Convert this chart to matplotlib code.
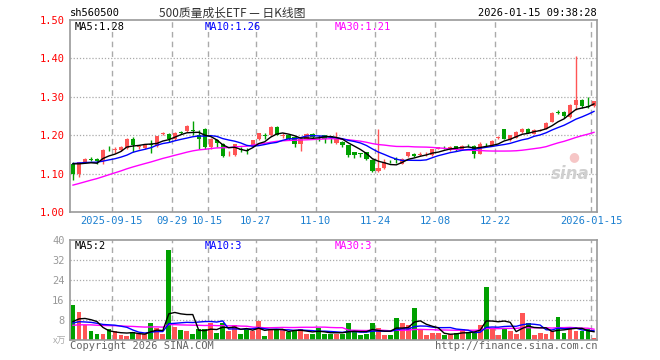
import numpy as np
import pandas as pd
import matplotlib
matplotlib.use("Agg")
import matplotlib.pyplot as plt

# daily K data, 2025-09-04 .. 2026-01-15 (88 sessions)
opens = [1.126, 1.100, 1.131, 1.137, 1.139, 1.133, 1.165, 1.161, 1.162, 1.167,
         1.190, 1.169, 1.167, 1.177, 1.172, 1.203, 1.203, 1.190, 1.209, 1.210,
         1.213, 1.200, 1.216, 1.170, 1.187, 1.178, 1.150, 1.148, 1.164, 1.162,
         1.171, 1.190, 1.201, 1.200, 1.222, 1.199, 1.200, 1.196, 1.178, 1.191,
         1.204, 1.199, 1.200, 1.197, 1.180, 1.183, 1.174, 1.155, 1.153, 1.155,
         1.135, 1.106, 1.115, 1.130, 1.136, 1.126, 1.145, 1.151, 1.149, 1.150,
         1.148, 1.165, 1.169, 1.161, 1.172, 1.165, 1.177, 1.172, 1.152, 1.177,
         1.174, 1.193, 1.216, 1.187, 1.194, 1.209, 1.217, 1.204, 1.212, 1.216,
         1.235, 1.260, 1.261, 1.248, 1.278, 1.291, 1.277, 1.276]
highs = [1.130, 1.131, 1.141, 1.143, 1.141, 1.163, 1.172, 1.168, 1.172, 1.192,
         1.196, 1.174, 1.177, 1.188, 1.199, 1.208, 1.205, 1.208, 1.212, 1.226,
         1.237, 1.214, 1.218, 1.192, 1.189, 1.180, 1.158, 1.178, 1.170, 1.166,
         1.188, 1.207, 1.206, 1.223, 1.223, 1.205, 1.201, 1.198, 1.192, 1.205,
         1.206, 1.200, 1.201, 1.199, 1.209, 1.186, 1.175, 1.157, 1.154, 1.157,
         1.137, 1.217, 1.137, 1.135, 1.142, 1.140, 1.156, 1.153, 1.155, 1.155,
         1.165, 1.170, 1.173, 1.172, 1.173, 1.174, 1.178, 1.174, 1.181, 1.180,
         1.187, 1.197, 1.217, 1.201, 1.210, 1.220, 1.219, 1.215, 1.216, 1.234,
         1.260, 1.266, 1.263, 1.280, 1.407, 1.294, 1.300, 1.290]
lows = [1.083, 1.091, 1.129, 1.132, 1.125, 1.125, 1.158, 1.153, 1.160, 1.165,
        1.157, 1.164, 1.165, 1.153, 1.170, 1.200, 1.183, 1.187, 1.204, 1.208,
        1.200, 1.165, 1.165, 1.165, 1.170, 1.143, 1.146, 1.146, 1.155, 1.150,
        1.168, 1.188, 1.190, 1.198, 1.200, 1.194, 1.188, 1.168, 1.159, 1.189,
        1.194, 1.186, 1.180, 1.180, 1.178, 1.170, 1.143, 1.140, 1.142, 1.135,
        1.103, 1.104, 1.113, 1.128, 1.128, 1.124, 1.144, 1.144, 1.145, 1.147,
        1.146, 1.163, 1.163, 1.160, 1.160, 1.164, 1.170, 1.140, 1.150, 1.172,
        1.172, 1.190, 1.190, 1.186, 1.193, 1.207, 1.205, 1.202, 1.210, 1.215,
        1.234, 1.254, 1.245, 1.246, 1.265, 1.271, 1.272, 1.274]
closes = [1.100, 1.129, 1.139, 1.135, 1.132, 1.161, 1.163, 1.162, 1.170, 1.190,
          1.174, 1.171, 1.175, 1.175, 1.198, 1.205, 1.189, 1.207, 1.207, 1.223,
          1.210, 1.191, 1.170, 1.189, 1.179, 1.147, 1.152, 1.176, 1.162, 1.160,
          1.187, 1.206, 1.199, 1.222, 1.201, 1.201, 1.191, 1.178, 1.191, 1.204,
          1.196, 1.197, 1.191, 1.195, 1.191, 1.174, 1.148, 1.149, 1.152, 1.139,
          1.106, 1.115, 1.129, 1.129, 1.135, 1.139, 1.155, 1.146, 1.151, 1.152,
          1.163, 1.168, 1.168, 1.170, 1.162, 1.172, 1.176, 1.152, 1.178, 1.176,
          1.185, 1.195, 1.191, 1.200, 1.209, 1.217, 1.207, 1.213, 1.214, 1.232,
          1.258, 1.258, 1.251, 1.278, 1.291, 1.276, 1.274, 1.288]
# volume, 万手
volumes = [14.0, 11.2, 5.9, 3.5, 2.3, 2.3, 4.5, 3.6, 1.9, 1.6,
           3.2, 2.5, 2.5, 6.7, 4.9, 2.3, 36.0, 5.2, 3.9, 3.5,
           2.3, 4.5, 4.5, 6.9, 2.7, 6.9, 3.5, 5.9, 2.3, 4.3,
           3.6, 7.6, 1.5, 3.9, 4.1, 4.3, 3.2, 3.6, 4.3, 2.5,
           2.5, 4.7, 2.3, 2.5, 2.5, 2.5, 6.7, 3.3, 1.9, 2.5,
           6.7, 4.7, 1.9, 1.9, 8.7, 6.7, 5.9, 12.7, 4.3, 1.9,
           2.7, 2.7, 1.9, 2.3, 2.7, 4.5, 3.3, 3.3, 5.9, 21.1,
           4.3, 1.9, 4.7, 3.5, 2.3, 10.7, 6.7, 1.9, 2.7, 2.3,
           3.5, 9.1, 2.7, 4.5, 3.5, 3.5, 4.3, 0.7]

# sessions before the window, only used to warm up the moving averages
pre_closes = [1.005, 1.008, 1.004, 1.010, 1.012, 1.009, 1.015, 1.020, 1.025, 1.030,
              1.038, 1.045, 1.050, 1.058, 1.065, 1.072, 1.080, 1.090, 1.100, 1.105,
              1.115, 1.125, 1.130, 1.128, 1.135, 1.130, 1.132, 1.128, 1.138]
pre_volumes = [5, 6, 4, 7, 5, 6, 5, 4, 6, 5, 7, 6, 5, 4, 6, 5, 6, 7, 5, 4,
               6, 7, 5, 6, 7, 6, 5, 6, 6]

date_idx = [7, 17, 23, 31, 41, 51, 61, 71, 87]
date_labels = ["2025-09-15", "09-29", "10-15", "10-27", "11-10",
               "11-24", "12-08", "12-22", "2026-01-15"]

price_ticks = [1.00, 1.10, 1.20, 1.30, 1.40, 1.50]
vol_ticks = [8, 16, 24, 32, 40]

RED = "#ff5555"
GREEN = "#00a000"
GRID = "#aaaaaa"
MONO = "DejaVu Sans Mono"

n = len(closes)
x = np.arange(n)
o = np.array(opens)
c = np.array(closes)
up = c >= o
cols = np.where(up, RED, GREEN)

full_c = pd.Series(pre_closes + closes)
full_v = pd.Series(pre_volumes + volumes)
k = len(pre_closes)
ma = {w: full_c.rolling(w).mean().values[k:] for w in (5, 10, 30)}
vma = {w: full_v.rolling(w).mean().values[k:] for w in (5, 10, 30)}
ma_colors = {5: "black", 10: "#0000ff", 30: "#ff00ff"}

W, H = 660, 360
fig = plt.figure(figsize=(6.6, 3.6), dpi=100)
fig.patch.set_facecolor("white")

ax = fig.add_axes([70 / W, 148 / H, 527 / W, 192 / H])
axv = fig.add_axes([70 / W, 20 / H, 527 / W, 100 / H])

for a in (ax, axv):
    a.set_xlim(-0.5, n - 0.5)
    for s in a.spines.values():
        s.set_color("#999999")
        s.set_linewidth(1.2)
    a.tick_params(length=0, pad=4)
    a.set_xticks([])
    for d in date_idx:
        a.axvline(d - 0.5, color=GRID, ls=(0, (4, 3)), lw=1, zorder=0)

# price panel
ax.set_ylim(1.0, 1.5)
ax.set_yticks(price_ticks)
ax.set_yticklabels([f"{t:.2f}" for t in price_ticks], color="red",
                   fontfamily=MONO, fontsize=7.5)
for t in price_ticks[1:-1]:
    ax.axhline(t, color=GRID, ls=(0, (1, 1.5)), lw=0.9, zorder=0)

ax.vlines(x, lows, highs, colors=cols, lw=1, zorder=2)
body = np.maximum(np.abs(c - o), 0.0018)
ax.bar(x, body, bottom=np.minimum(o, c), width=0.7, color=cols, lw=0, zorder=3)
for w in (30, 10, 5):
    ax.plot(x, ma[w], color=ma_colors[w], lw=1, zorder=4)

for d, lab in zip(date_idx, date_labels):
    ax.text(d - 0.5, 0.99, lab, color="#1a7fd0", fontfamily=MONO, fontsize=7.5,
            ha="center", va="top", transform=ax.transData)

ax.text(75 / W, 1 - 27 / H, "MA5:1.28", transform=fig.transFigure,
        color="black", fontfamily=MONO, fontsize=7.5, va="center")
ax.text(205 / W, 1 - 27 / H, "MA10:1.26", transform=fig.transFigure,
        color="#0000ff", fontfamily=MONO, fontsize=7.5, va="center")
ax.text(335 / W, 1 - 27 / H, "MA30:1.21", transform=fig.transFigure,
        color="#ff00ff", fontfamily=MONO, fontsize=7.5, va="center")

# watermark
ax.text(0.985, 0.2, "sina", transform=ax.transAxes, ha="right", va="center",
        color="#cfcfcf", fontsize=12, style="italic", weight="bold")
ax.text(0.955, 0.29, "●", transform=ax.transAxes, ha="center", va="center",
        color="#f6c6c6", fontsize=9)

# volume panel
axv.set_ylim(0, 40)
axv.set_yticks(vol_ticks)
axv.set_yticklabels([str(t) for t in vol_ticks], color="#999999",
                    fontfamily=MONO, fontsize=7.5)
for t in vol_ticks[:-1]:
    axv.axhline(t, color=GRID, ls=(0, (1, 1.5)), lw=0.9, zorder=0)
axv.bar(x, volumes, width=0.8, color=cols, lw=0, zorder=2)
for w in (30, 10, 5):
    axv.plot(x, vma[w], color=ma_colors[w], lw=1, zorder=3)

fig.text(75 / W, 1 - 246 / H, "MA5:2", color="black", fontfamily=MONO,
         fontsize=7.5, va="center")
fig.text(205 / W, 1 - 246 / H, "MA10:3", color="#0000ff", fontfamily=MONO,
         fontsize=7.5, va="center")
fig.text(335 / W, 1 - 246 / H, "MA30:3", color="#ff00ff", fontfamily=MONO,
         fontsize=7.5, va="center")
fig.text(66 / W, 1 - 341 / H, "x万", color="#aaaaaa", ha="right", va="center",
         fontsize=6.5, family=["Noto Sans CJK SC", "DejaVu Sans"])

# header / footer
fig.text(70 / W, 1 - 13 / H, "sh560500", color="black", fontfamily=MONO,
         fontsize=7.5, va="center")
fig.text(232 / W, 1 - 13 / H, "500质量成长ETF — 日K线图", color="#333333",
         ha="center", va="center", fontsize=8.5,
         family=["Noto Sans CJK SC", "DejaVu Sans"])
fig.text(597 / W, 1 - 13 / H, "2026-01-15 09:38:28", color="black",
         fontfamily=MONO, fontsize=7.5, ha="right", va="center")
fig.text(70 / W, 1 - 346 / H, "Copyright 2026 SINA.COM", color="#666666",
         fontfamily=MONO, fontsize=7.5, va="center")
fig.text(597 / W, 1 - 346 / H, "http://finance.sina.com.cn", color="#666666",
         fontfamily=MONO, fontsize=7.5, ha="right", va="center")

fig.savefig("out.png", dpi=100, facecolor="white")
